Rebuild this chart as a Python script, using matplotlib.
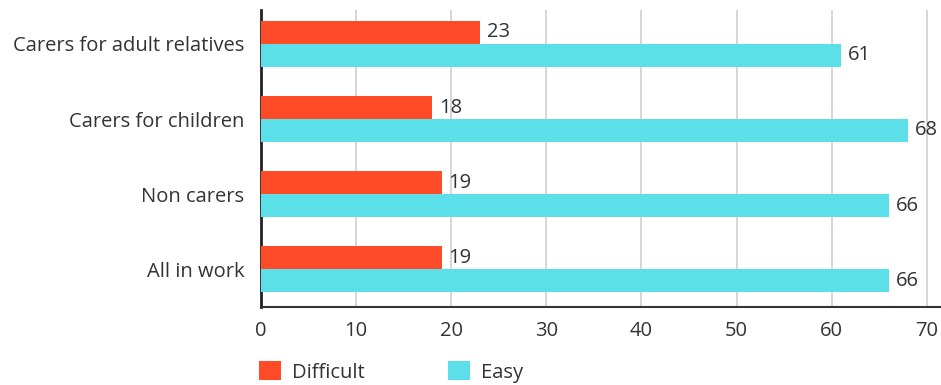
import matplotlib

matplotlib.use("Agg")
import matplotlib.pyplot as plt
import numpy as np
from matplotlib.patches import Patch

CATEGORIES = ["Carers for adult relatives", "Carers for children", "Non carers", "All in work"]
DIFFICULT = [23, 18, 19, 19]
EASY = [61, 68, 66, 66]
X_TICKS = [0, 10, 20, 30, 40, 50, 60, 70]

RED = "#ff4b28"
CYAN = "#5bdfe8"
TEXT = "#333333"
FS = 14.5

plt.rcParams["font.family"] = ["Open Sans", "DejaVu Sans"]

fig = plt.figure(figsize=(9.41, 3.85), dpi=100)
ax = fig.add_axes([261 / 941, 1 - 307 / 385, 680 / 941, 297 / 385])

pos = np.arange(len(CATEGORIES))
h = 0.305
ax.barh(pos - h / 2, DIFFICULT, height=h, color=RED, zorder=3)
ax.barh(pos + h / 2, EASY, height=h, color=CYAN, zorder=3)

for y, v in zip(pos - h / 2, DIFFICULT):
    ax.annotate(str(v), (v, y), xytext=(5, 0), textcoords="offset points",
                va="center", ha="left", fontsize=FS, color=TEXT)
for y, v in zip(pos + h / 2, EASY):
    ax.annotate(str(v), (v, y), xytext=(5, 0), textcoords="offset points",
                va="center", ha="left", fontsize=FS, color=TEXT)

ax.set_ylim(len(CATEGORIES) - 0.5, -0.45)
ax.set_xlim(0, 71.5)
ax.set_yticks(pos)
ax.set_yticklabels(CATEGORIES)
ax.set_xticks(X_TICKS)
ax.tick_params(axis="both", length=0, labelsize=FS, labelcolor=TEXT)
ax.tick_params(axis="x", pad=10)
ax.tick_params(axis="y", pad=12)

ax.grid(axis="x", color="#d0d0d0", linewidth=1.2, zorder=0)
ax.set_axisbelow(True)
for side in ("top", "right"):
    ax.spines[side].set_visible(False)
ax.spines["left"].set_color("#222222")
ax.spines["left"].set_linewidth(2)
ax.spines["bottom"].set_color("#333333")
ax.spines["bottom"].set_linewidth(1.5)

handles = [Patch(facecolor=RED, label="Difficult"), Patch(facecolor=CYAN, label="Easy")]
fig.legend(handles=handles, loc="upper left", bbox_to_anchor=(243 / 941, 1 - 345 / 385),
           ncol=2, frameon=False, fontsize=FS, handlelength=1.1, handleheight=1.1,
           handletextpad=0.55, columnspacing=4.1, labelcolor=TEXT, borderpad=0.3)

fig.savefig("out.png", dpi=100, facecolor="white")
